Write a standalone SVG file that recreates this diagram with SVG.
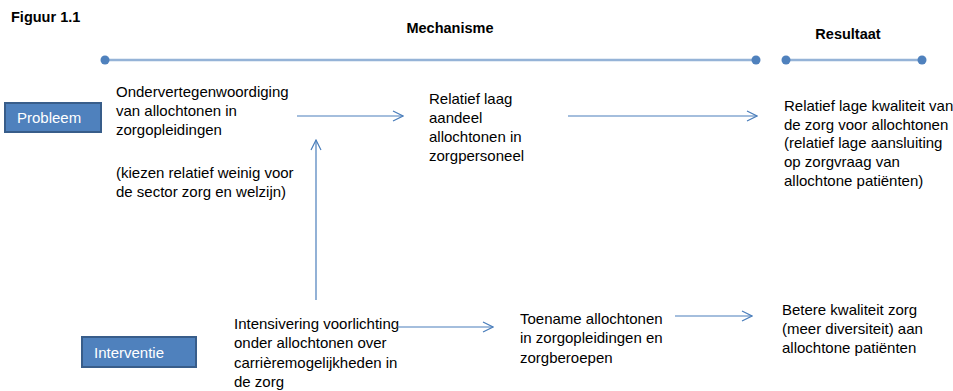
<svg xmlns="http://www.w3.org/2000/svg" width="953" height="391" viewBox="0 0 953 391">
<defs>
<style>
text{font-family:"Liberation Sans",Arial,sans-serif;fill:#000;}
.t{font-size:15px;}
.h{font-size:14.5px;font-weight:bold;}
.bx{fill:#4F81BD;stroke:#385D8A;stroke-width:2;}
.bt{font-size:15px;fill:#fff;}
.ln{stroke:#95B3D7;stroke-width:2.5;fill:none;}
.dot{fill:#4F81BD;}
.ar{stroke:#4A7EBB;stroke-width:1.2;fill:none;marker-end:url(#ah);}
</style>
<marker id="ah" viewBox="0 0 12 12" refX="11" refY="6" markerWidth="12" markerHeight="12" markerUnits="userSpaceOnUse" orient="auto">
<path d="M1,1 L11,6 L1,11" fill="none" stroke="#4A7EBB" stroke-width="1.2"/>
</marker>
</defs>
<rect width="953" height="391" fill="#fff"/>
<g id="titles">
<text class="h" x="11" y="22">Figuur 1.1</text>
<text class="h" x="450" y="33" text-anchor="middle">Mechanisme</text>
<text class="h" x="848" y="39" text-anchor="middle">Resultaat</text>
</g>
<g id="timeline">
<line class="ln" x1="105" y1="60" x2="756" y2="60"/>
<circle class="dot" cx="105" cy="60" r="4.5"/>
<circle class="dot" cx="756" cy="60" r="4.5"/>
<line class="ln" x1="786" y1="60" x2="922" y2="60"/>
<circle class="dot" cx="786" cy="60" r="4.5"/>
<circle class="dot" cx="922" cy="60" r="4.5"/>
</g>
<g id="probleem">
<rect class="bx" x="5" y="103" width="96" height="29"/>
<text class="bt" x="17" y="123">Probleem</text>
</g>
<g id="interventie">
<rect class="bx" x="82" y="337" width="114" height="30"/>
<text class="bt" x="94" y="358">Interventie</text>
</g>
<g id="ondervertegenwoordiging">
<text class="t" x="116" y="97">Ondervertegenwoordiging</text>
<text class="t" x="116" y="116">van allochtonen in</text>
<text class="t" x="116" y="135">zorgopleidingen</text>
<text class="t" x="116" y="178">(kiezen relatief weinig voor</text>
<text class="t" x="116" y="197">de sector zorg en welzijn)</text>
</g>
<g id="relatief-laag">
<text class="t" x="429" y="104">Relatief laag</text>
<text class="t" x="429" y="123">aandeel</text>
<text class="t" x="429" y="142">allochtonen in</text>
<text class="t" x="429" y="161">zorgpersoneel</text>
</g>
<g id="lage-kwaliteit">
<text class="t" x="784" y="111">Relatief lage kwaliteit van</text>
<text class="t" x="784" y="130">de zorg voor allochtonen</text>
<text class="t" x="784" y="148">(relatief lage aansluiting</text>
<text class="t" x="784" y="167">op zorgvraag van</text>
<text class="t" x="784" y="186">allochtone patiënten)</text>
</g>
<g id="intensivering">
<text class="t" x="234" y="329">Intensivering voorlichting</text>
<text class="t" x="234" y="348">onder allochtonen over</text>
<text class="t" x="234" y="368">carrièremogelijkheden in</text>
<text class="t" x="234" y="387">de zorg</text>
</g>
<g id="toename">
<text class="t" x="520" y="324">Toename allochtonen</text>
<text class="t" x="520" y="343">in zorgopleidingen en</text>
<text class="t" x="520" y="363">zorgberoepen</text>
</g>
<g id="betere-kwaliteit">
<text class="t" x="782" y="315">Betere kwaliteit zorg</text>
<text class="t" x="782" y="334">(meer diversiteit) aan</text>
<text class="t" x="782" y="353">allochtone patiënten</text>
</g>
<g id="connectors">
<line class="ar" x1="297" y1="116" x2="403" y2="116"/>
<line class="ar" x1="568" y1="116" x2="757" y2="116"/>
<line class="ar" x1="316" y1="300" x2="316" y2="140"/>
<line class="ar" x1="397" y1="327" x2="493" y2="327"/>
<line class="ar" x1="675" y1="316" x2="752" y2="316"/>
</g>
</svg>
